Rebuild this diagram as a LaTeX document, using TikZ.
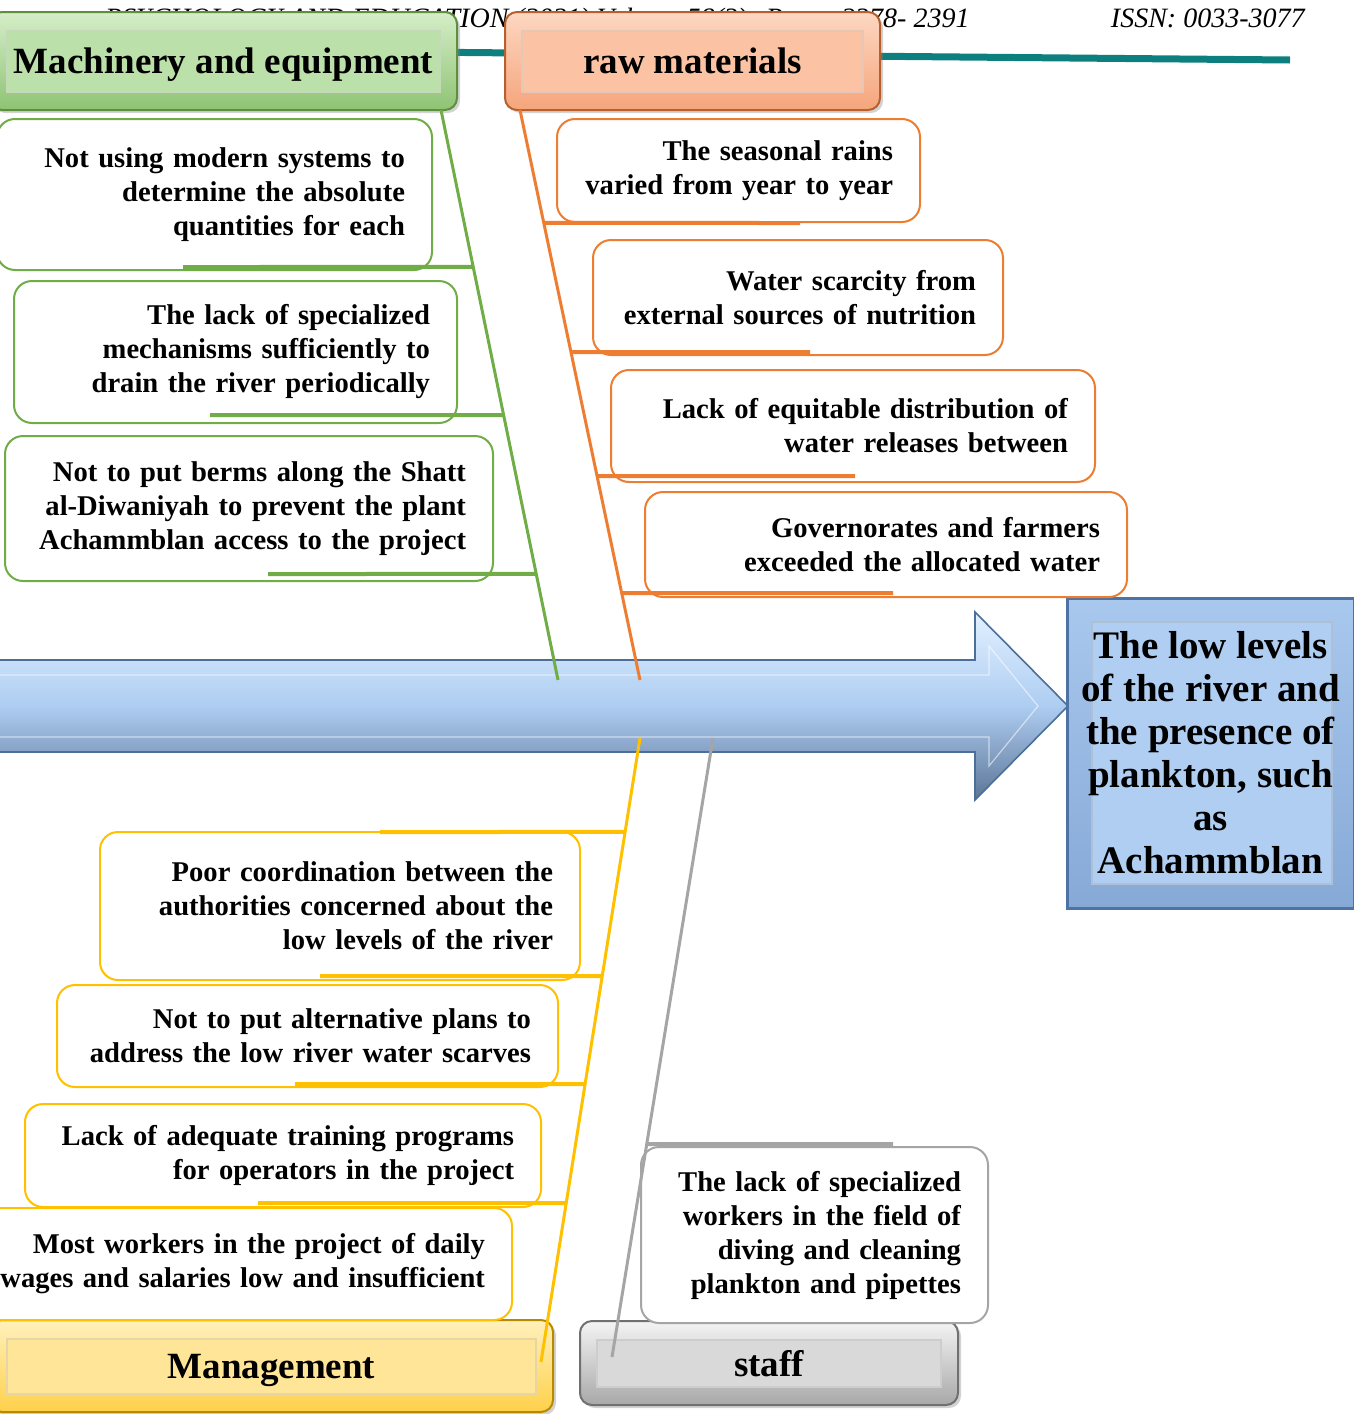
\documentclass[tikz,border=0pt]{standalone}
\usepackage{fontspec}
\setmainfont{Liberation Serif}
\usetikzlibrary{calc, shadows}

\definecolor{gline}{HTML}{70AD47}
\definecolor{oline}{HTML}{ED7D31}
\definecolor{yline}{HTML}{FFC000}
\definecolor{sline}{HTML}{A5A5A5}
\definecolor{rulecol}{HTML}{0E7F7F}
\definecolor{mtop}{HTML}{D5EEC8}
\definecolor{mbot}{HTML}{8FC373}
\definecolor{medge}{HTML}{5E8E3E}
\definecolor{mfill}{HTML}{BCE0A9}
\definecolor{rtop}{HTML}{FDD7C2}
\definecolor{rbot}{HTML}{F5A57B}
\definecolor{redge}{HTML}{B7602E}
\definecolor{rfill}{HTML}{FBC3A4}
\definecolor{ytop}{HTML}{FFF0BC}
\definecolor{ybot}{HTML}{FFD04A}
\definecolor{yedge}{HTML}{B88A00}
\definecolor{yfill}{HTML}{FFE597}
\definecolor{stop}{HTML}{F4F4F4}
\definecolor{sbot}{HTML}{A8A8A8}
\definecolor{sedge}{HTML}{707070}
\definecolor{sfill}{HTML}{D9D9D9}
\definecolor{arrtop}{HTML}{E2F1FF}
\definecolor{arrmid}{HTML}{AECDF2}
\definecolor{arrbot}{HTML}{5B7596}
\definecolor{arredge}{HTML}{4B6F99}
\definecolor{restop}{HTML}{A9C8EE}
\definecolor{resbot}{HTML}{86A9D6}
\definecolor{resedge}{HTML}{4C73A4}
\definecolor{resfill}{HTML}{B0CEF2}

\begin{document}
\begin{tikzpicture}[x=0.5pt, y=-0.5pt,
  cause/.style={rectangle, rounded corners=9pt, line width=1pt, fill=white, align=right,
    inner xsep=13.5pt, font=\fontsize{14.3}{17}\selectfont\bfseries},
  gcause/.style={cause, draw=gline},
  ocause/.style={cause, draw=oline},
  ycause/.style={cause, draw=yline},
  scause/.style={cause, draw=sline},
  catbox/.style n args={4}{rectangle, rounded corners=6pt, line width=1pt,
    top color=#1, bottom color=#2, draw=#3,
    drop shadow={shadow xshift=1.5pt, shadow yshift=-1.5pt, opacity=0.35},
    font=\fontsize{18.5}{22}\selectfont\bfseries, text depth=0pt,
    path picture={\draw[sharp corners, draw=#3!35!white, fill=#4, line width=0.6pt]
      ($(path picture bounding box.north west)+(8.5pt,-9.5pt)$) rectangle
      ($(path picture bounding box.south east)+(-8.5pt,9pt)$);}},
  result/.style={rectangle, line width=1.5pt, draw=resedge, top color=restop, bottom color=resbot,
    minimum width=143.5pt, minimum height=155pt, align=center,
    font=\fontsize{19.5}{21.5}\selectfont\bfseries,
    path picture={\draw[draw=resedge!45!white, fill=resfill, line width=0.6pt]
      ($(path picture bounding box.north west)+(12.5pt,-12pt)$) rectangle
      ($(path picture bounding box.south east)+(-11pt,12pt)$);}},
  spine/.style={draw=arredge, line width=0.8pt, top color=arrtop, bottom color=arrbot, middle color=arrmid},
  bevel/.style={draw=white, line width=0.6pt, opacity=0.55},
  headrule/.style={draw=rulecol, line width=3.5pt},
  pagehead/.style={font=\fontsize{14}{16}\selectfont\itshape, inner sep=0pt},
  bone/.style={line width=1.5pt},
  rib/.style={line width=2pt}
]
\useasboundingbox (0,0) rectangle (1354,1414);
\clip (0,0) rectangle (1354,1414);

% 页眉
\node (journal) [pagehead, anchor=base east] at (970,27) {PSYCHOLOGY AND EDUCATION (2021) Volume 58(3): Pages 2378- 2391};
\node (issn) [pagehead, anchor=base east] at (1305,27) {ISSN: 0033-3077};
\coordinate (ruleL) at (300,51);
\coordinate (ruleR) at (1290,60);
\draw [headrule] (ruleL) -- (ruleR);

% 主干箭头
\draw [spine] (-10,660) -- (975,660) -- (975,612) -- (1068,706) -- (975,800) -- (975,752) -- (-10,752) -- cycle;
\draw [bevel] (-10,675) -- (989,675) -- (989,646) -- (1038,706) -- (989,766) -- (989,737) -- (-10,737);

% 结果
\node (effect) [result] at (1210.5,753) {The low levels\\of the river and\\the presence of\\plankton, such\\as\\Achammblan};

% 类别
\node (mach) [catbox={mtop}{mbot}{medge}{mfill}, minimum width=233.5pt, minimum height=49pt] at (223.5,61) {Machinery and equipment};
\node (raw) [catbox={rtop}{rbot}{redge}{rfill}, minimum width=187.5pt, minimum height=49pt] at (692.5,61) {raw materials};
\node (mgmt) [catbox={ytop}{ybot}{yedge}{yfill}, minimum width=281.5pt, minimum height=46pt] at (271.5,1366) {Management};
\node (staff) [catbox={stop}{sbot}{sedge}{sfill}, minimum width=189pt, minimum height=42pt] at (769,1363) {staff};

% 原因 (上方)
\node (g1) [gcause, text width=190.5pt, minimum height=75.5pt] at (214.5,194.5) {Not using modern systems to\\determine the absolute\\quantities for each};
\node (g2) [gcause, text width=194.5pt, minimum height=71pt] at (235.5,352) {The lack of specialized\\mechanisms sufficiently to\\drain the river periodically};
\node (g3) [gcause, text width=217pt, minimum height=72.5pt] at (249,508.5) {Not to put berms along the Shatt\\al-Diwaniyah to prevent the plant\\Achammblan access to the project};
\node (o1) [ocause, text width=154.5pt, minimum height=51.5pt] at (738.5,170.5) {The seasonal rains\\varied from year to year};
\node (o2) [ocause, text width=178pt, minimum height=57.5pt] at (798,297.5) {Water scarcity from\\external sources of nutrition};
\node (o3) [ocause, text width=215pt, minimum height=56pt] at (853,426) {Lack of equitable distribution of\\water releases between};
\node (o4) [ocause, text width=214pt, minimum height=52.5pt] at (886,544.5) {Governorates and farmers\\exceeded the allocated water};

% 原因 (下方)
\node (y1) [ycause, text width=213pt, minimum height=74pt] at (340,906) {Poor coordination between the\\authorities concerned about the\\low levels of the river};
\node (y2) [ycause, text width=223.5pt, minimum height=51pt] at (307.5,1036) {Not to put alternative plans to\\address the low river water scarves};
\node (y3) [ycause, text width=231pt, minimum height=51.5pt] at (283,1155.5) {Lack of adequate training programs\\for operators in the project};
\node (y4) [ycause, text width=250pt, minimum height=56pt] at (235,1264) {Most workers in the project of daily\\wages and salaries low and insufficient};
\node (s1) [scause, text width=146.5pt, minimum height=88pt] at (814.5,1235) {The lack of specialized\\workers in the field of\\diving and cleaning\\plankton and pipettes};

% 骨线
\coordinate (gTop) at (441,110);
\coordinate (gBot) at (558,680);
\coordinate (oTop) at (520,110);
\coordinate (oBot) at (640,680);
\coordinate (yTop) at (640,738);
\coordinate (yBot) at (541,1362);
\coordinate (sTop) at (713,738);
\coordinate (sBot) at (612,1357);
\draw [bone, gline] (gTop) -- (gBot);
\draw [bone, oline] (oTop) -- (oBot);
\draw [bone, yline] (yTop) -- (yBot);
\draw [bone, sline] (sTop) -- (sBot);

% 分支
\coordinate (gR1) at (183,267);
\coordinate (gR2) at (210,415);
\coordinate (gR3) at (268,574);
\coordinate (oR1) at (800,223);
\coordinate (oR2) at (810,352);
\coordinate (oR3) at (855,476);
\coordinate (oR4) at (893,593);
\coordinate (yR1) at (380,832);
\coordinate (yR2) at (320,976);
\coordinate (yR3) at (295,1084);
\coordinate (yR4) at (258,1203);
\coordinate (sR1) at (893,1144);
\draw [rib, gline] (gR1) -- ($(gTop)!0.2754!(gBot)$);
\draw [rib, gline] (gR2) -- ($(gTop)!0.5351!(gBot)$);
\draw [rib, gline] (gR3) -- ($(gTop)!0.8140!(gBot)$);
\draw [rib, oline] (oR1) -- ($(oTop)!0.1982!(oBot)$);
\draw [rib, oline] (oR2) -- ($(oTop)!0.4246!(oBot)$);
\draw [rib, oline] (oR3) -- ($(oTop)!0.6421!(oBot)$);
\draw [rib, oline] (oR4) -- ($(oTop)!0.8474!(oBot)$);
\draw [rib, yline] (yR1) -- ($(yTop)!0.1506!(yBot)$);
\draw [rib, yline] (yR2) -- ($(yTop)!0.3814!(yBot)$);
\draw [rib, yline] (yR3) -- ($(yTop)!0.5545!(yBot)$);
\draw [rib, yline] (yR4) -- ($(yTop)!0.7452!(yBot)$);
\draw [rib, sline] (sR1) -- ($(sTop)!0.6559!(sBot)$);

\end{tikzpicture}
\end{document}
